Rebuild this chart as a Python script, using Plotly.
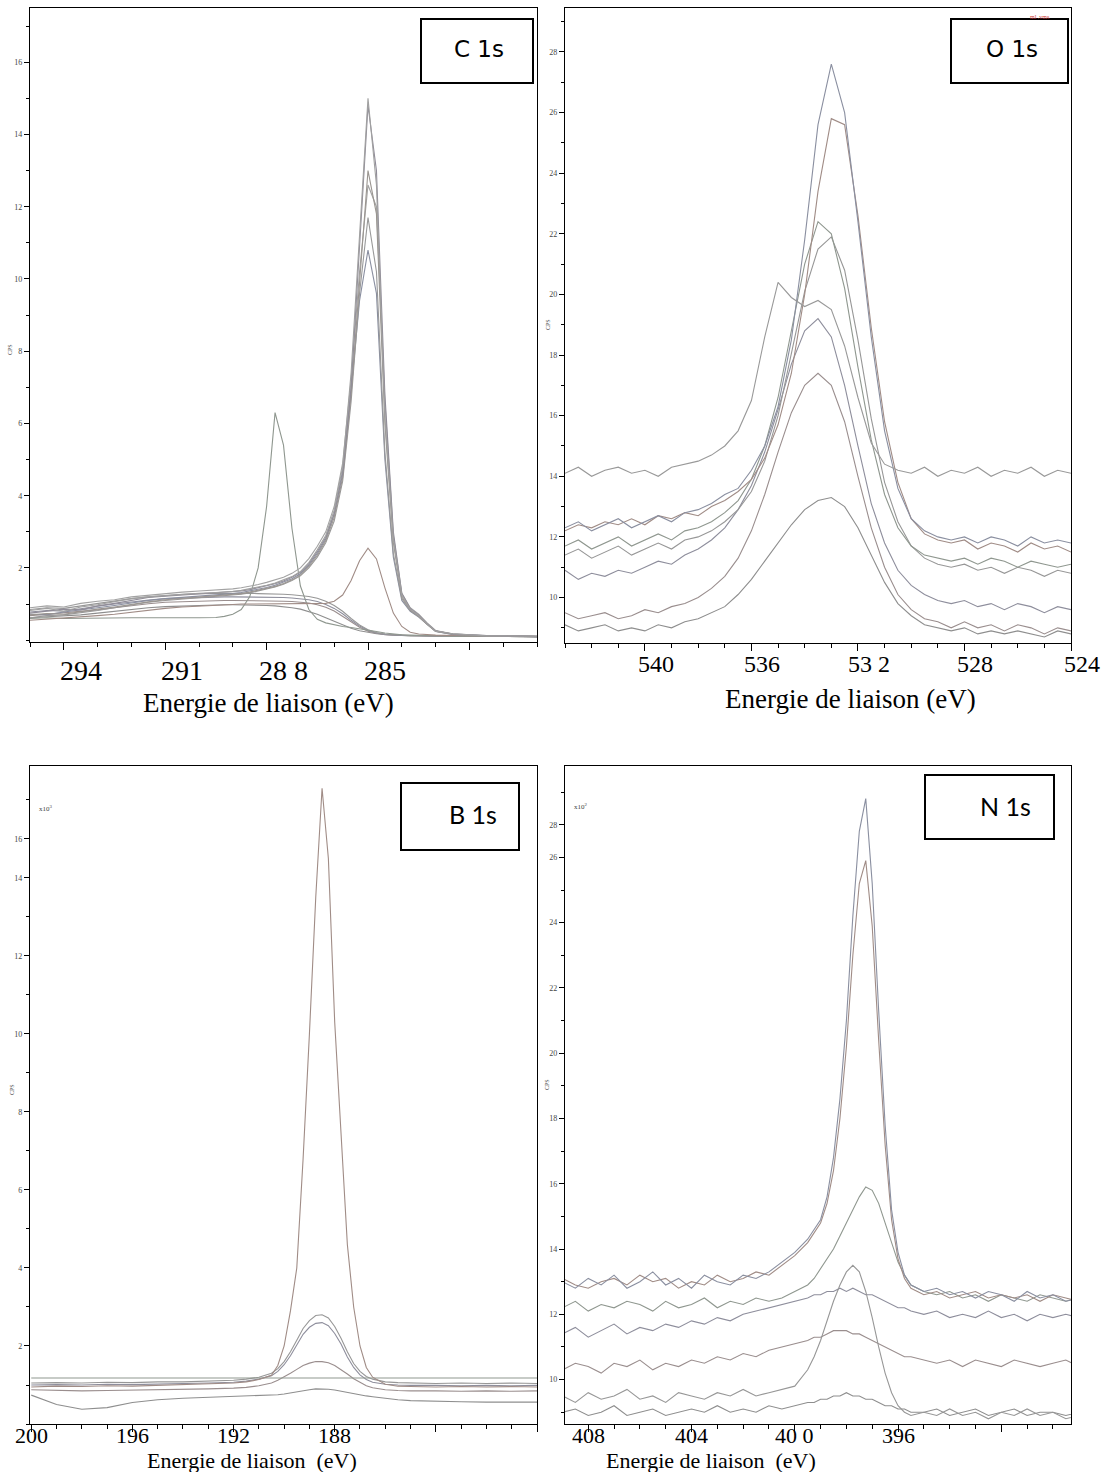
import plotly.graph_objects as go

# ---------------- DATA ----------------
# C 1s (x: binding energy eV, y: CPS x10^3)
C_X = [295, 294.5, 294, 293.5, 293, 292.5, 292, 291.5, 291, 290.5, 290, 289.5,
       289.25, 289, 288.75, 288.5, 288.25, 288, 287.75, 287.5, 287.25, 287, 286.75,
       286.5, 286.25, 286, 285.75, 285.5, 285.25, 285, 284.75, 284.5, 284.25, 284, 283.75, 283.5, 283.25, 283,
       282.5, 282, 281.5, 281, 280.5, 280]
C_A = [0.82, 0.88, 0.80, 0.92, 0.98, 1.06, 1.15, 1.20, 1.24, 1.27, 1.30, 1.32, 1.33, 1.35, 1.38, 1.42, 1.47, 1.52, 1.58, 1.66, 1.76, 1.90, 2.15,
       2.5, 2.9, 3.6, 4.8, 7.4, 11.3, 15.0, 12.6, 6.2, 2.8, 1.25, 0.85, 0.68, 0.45, 0.25,
       0.18, 0.14, 0.12, 0.12, 0.11, 0.11]
C_B = [0.75, 0.80, 0.86, 0.84, 0.95, 1.02, 1.10, 1.18, 1.22, 1.25, 1.28, 1.30, 1.31, 1.33, 1.36, 1.40, 1.45, 1.50, 1.56, 1.64, 1.74, 1.88, 2.12,
       2.45, 2.85, 3.5, 4.6, 7.0, 10.8, 14.8, 13.0, 6.8, 3.0, 1.3, 0.88, 0.70, 0.46, 0.26,
       0.17, 0.14, 0.13, 0.12, 0.11, 0.11]
C_C = [0.70, 0.74, 0.72, 0.80, 0.86, 0.92, 1.00, 1.06, 1.12, 1.16, 1.20, 1.22, 1.24, 1.26, 1.29, 1.33, 1.38, 1.43, 1.49, 1.57, 1.67, 1.80, 2.04,
       2.35, 2.75, 3.4, 4.5, 6.8, 10.0, 13.0, 11.8, 6.0, 2.7, 1.2, 0.84, 0.66, 0.44, 0.25,
       0.17, 0.13, 0.12, 0.11, 0.11, 0.10]
C_D = [0.90, 0.95, 0.92, 1.02, 1.08, 1.12, 1.20, 1.25, 1.30, 1.33, 1.36, 1.38, 1.40, 1.42, 1.45, 1.49, 1.54, 1.60, 1.66, 1.74, 1.85, 2.00, 2.26,
       2.6, 3.0, 3.7, 4.9, 7.2, 10.2, 12.6, 12.0, 6.6, 2.9, 1.3, 0.9, 0.72, 0.48, 0.27,
       0.18, 0.15, 0.13, 0.12, 0.12, 0.11]
C_E = [0.62, 0.68, 0.70, 0.75, 0.82, 0.90, 0.98, 1.05, 1.10, 1.14, 1.18, 1.20, 1.22, 1.24, 1.27, 1.31, 1.36, 1.41, 1.47, 1.55, 1.65, 1.78, 2.00,
       2.3, 2.7, 3.3, 4.4, 6.6, 9.6, 11.7, 10.2, 5.2, 2.4, 1.15, 0.82, 0.66, 0.44, 0.25,
       0.16, 0.13, 0.12, 0.11, 0.10, 0.10]
C_F = [0.72, 0.70, 0.78, 0.85, 0.90, 0.96, 1.04, 1.10, 1.15, 1.18, 1.22, 1.25, 1.27, 1.29, 1.32, 1.36, 1.41, 1.46, 1.52, 1.60, 1.70, 1.84, 2.08,
       2.4, 2.8, 3.5, 4.7, 6.9, 9.4, 10.8, 9.6, 5.0, 2.3, 1.1, 0.8, 0.64, 0.43, 0.24,
       0.16, 0.13, 0.12, 0.11, 0.11, 0.10]
C_G = [0.60, 0.62, 0.60, 0.61, 0.62, 0.61, 0.62, 0.62, 0.61, 0.62, 0.62, 0.63, 0.66, 0.72, 0.85, 1.2, 2.0, 3.7, 6.3, 5.4, 3.1, 1.5, 0.85,
       0.58, 0.48, 0.42, 0.38, 0.35, 0.32, 0.28, 0.24, 0.20, 0.17, 0.15, 0.14, 0.13, 0.12, 0.12,
       0.11, 0.11, 0.10, 0.10, 0.10, 0.10]
C_H = [0.55, 0.58, 0.60, 0.64, 0.68, 0.72, 0.78, 0.83, 0.88, 0.92, 0.95, 0.97, 0.98, 0.99, 1.0, 1.0, 1.0, 1.0, 1.0, 1.0, 1.0, 1.0, 1.0,
       1.0, 1.02, 1.08, 1.25, 1.65, 2.2, 2.55, 2.25, 1.45, 0.75, 0.38, 0.22, 0.17, 0.15, 0.14,
       0.13, 0.12, 0.12, 0.11, 0.11, 0.11]
C_BG1 = [0.85, 0.90, 0.88, 0.95, 1.02, 1.08, 1.15, 1.20, 1.24, 1.27, 1.29, 1.30, 1.30, 1.30, 1.30, 1.30, 1.29, 1.29, 1.28, 1.27, 1.26, 1.24, 1.21,
         1.16, 1.08, 0.96, 0.80, 0.60, 0.42, 0.29, 0.21, 0.17, 0.15, 0.14, 0.13, 0.13, 0.12, 0.12,
         0.12, 0.12, 0.11, 0.11, 0.11, 0.11]
C_BG2 = [0.78, 0.82, 0.80, 0.88, 0.94, 1.00, 1.06, 1.11, 1.15, 1.17, 1.19, 1.20, 1.20, 1.20, 1.20, 1.20, 1.19, 1.19, 1.18, 1.18, 1.17, 1.15, 1.12,
         1.07, 0.99, 0.88, 0.73, 0.55, 0.39, 0.27, 0.20, 0.16, 0.14, 0.13, 0.13, 0.12, 0.12, 0.12,
         0.12, 0.11, 0.11, 0.11, 0.11, 0.10]
C_BG3 = [0.68, 0.72, 0.74, 0.78, 0.84, 0.90, 0.96, 1.01, 1.05, 1.07, 1.09, 1.10, 1.10, 1.10, 1.10, 1.10, 1.10, 1.09, 1.09, 1.08, 1.07, 1.06, 1.03,
         0.98, 0.91, 0.81, 0.67, 0.51, 0.36, 0.25, 0.19, 0.15, 0.14, 0.13, 0.12, 0.12, 0.12, 0.11,
         0.11, 0.11, 0.11, 0.10, 0.10, 0.10]
C_BG4 = [0.62, 0.65, 0.66, 0.70, 0.75, 0.80, 0.86, 0.90, 0.93, 0.95, 0.97, 0.98, 0.98, 0.98, 0.98, 0.97, 0.97, 0.96, 0.95, 0.93, 0.90, 0.86, 0.80,
         0.72, 0.62, 0.52, 0.42, 0.33, 0.26, 0.21, 0.18, 0.16, 0.14, 0.13, 0.12, 0.12, 0.12, 0.11,
         0.11, 0.11, 0.10, 0.10, 0.10, 0.10]

# O 1s (y: CPS x10^3)
O_X = [543, 542.5, 542, 541.5, 541, 540.5, 540, 539.5, 539, 538.5, 538, 537.5, 537,
       536.5, 536, 535.5, 535, 534.5, 534, 533.5, 533, 532.5, 532, 531.5, 531, 530.5,
       530, 529.5, 529, 528.5, 528, 527.5, 527, 526.5, 526, 525.5, 525, 524.5, 524]
O_1 = [14.1, 14.3, 14.0, 14.2, 14.3, 14.1, 14.2, 14.0, 14.3, 14.4, 14.5, 14.7, 15.0,
       15.5, 16.5, 18.6, 20.4, 19.9, 19.6, 19.8, 19.5, 18.3, 16.6, 15.1, 14.4, 14.2,
       14.1, 14.3, 14.0, 14.2, 14.1, 14.3, 14.0, 14.2, 14.1, 14.3, 14.0, 14.2, 14.1]
O_2 = [12.3, 12.5, 12.2, 12.4, 12.6, 12.3, 12.5, 12.7, 12.5, 12.8, 12.9, 13.1, 13.4,
       13.6, 14.2, 15.0, 16.3, 18.5, 21.8, 25.6, 27.6, 26.0, 22.4, 18.6, 15.5, 13.6,
       12.6, 12.2, 12.0, 11.9, 12.0, 11.8, 12.0, 11.9, 11.7, 12.0, 11.8, 11.9, 11.8]
O_3 = [12.2, 12.4, 12.3, 12.5, 12.4, 12.6, 12.4, 12.7, 12.6, 12.8, 12.7, 13.0, 13.2,
       13.5, 13.9, 14.6, 15.7, 17.4, 20.0, 23.4, 25.8, 25.6, 22.6, 18.9, 15.8, 13.8,
       12.6, 12.1, 11.9, 11.8, 11.9, 11.6, 11.8, 11.7, 11.5, 11.8, 11.6, 11.7, 11.5]
O_4 = [11.7, 11.9, 11.6, 11.8, 12.0, 11.7, 11.9, 12.1, 11.9, 12.2, 12.3, 12.5, 12.8,
       13.2, 13.9, 15.0, 16.6, 18.8, 21.0, 22.4, 22.0, 20.2, 17.6, 15.2, 13.4, 12.3,
       11.7, 11.4, 11.3, 11.2, 11.3, 11.1, 11.3, 11.2, 11.0, 11.2, 11.1, 11.0, 11.1]
O_5 = [11.4, 11.6, 11.3, 11.5, 11.7, 11.4, 11.6, 11.8, 11.6, 11.9, 12.0, 12.2, 12.5,
       12.9, 13.5, 14.5, 16.0, 18.0, 20.1, 21.5, 21.9, 20.8, 18.5, 15.9, 13.8, 12.5,
       11.7, 11.3, 11.1, 11.0, 11.1, 10.9, 11.0, 10.8, 11.0, 10.9, 10.7, 10.9, 10.8]
O_6 = [10.9, 10.6, 10.8, 10.7, 10.9, 10.8, 11.0, 11.2, 11.1, 11.4, 11.6, 11.9, 12.3,
       12.9, 13.7, 14.8, 16.2, 17.7, 18.8, 19.2, 18.6, 17.0, 15.0, 13.1, 11.8, 10.9,
       10.4, 10.1, 9.9, 9.8, 9.9, 9.7, 9.8, 9.6, 9.8, 9.7, 9.5, 9.7, 9.6]
O_7 = [9.5, 9.3, 9.4, 9.5, 9.3, 9.4, 9.6, 9.5, 9.7, 9.8, 10.0, 10.3, 10.7,
       11.3, 12.2, 13.4, 14.8, 16.1, 17.0, 17.4, 17.0, 15.8, 14.0, 12.3, 11.0, 10.1,
       9.6, 9.3, 9.2, 9.0, 9.2, 9.0, 9.1, 8.9, 9.1, 9.0, 8.8, 9.0, 8.9]
O_8 = [9.1, 8.9, 9.0, 9.1, 8.9, 9.0, 8.9, 9.1, 9.0, 9.2, 9.3, 9.5, 9.7,
       10.1, 10.6, 11.2, 11.8, 12.4, 12.9, 13.2, 13.3, 13.0, 12.3, 11.4, 10.5, 9.8,
       9.4, 9.1, 9.0, 8.9, 9.0, 8.8, 8.9, 8.8, 8.9, 8.8, 8.7, 8.9, 8.8]

# B 1s (y: CPS x10^3)
B_X = [200, 199, 198, 197, 196, 195, 194, 193, 192, 191.5, 191,
       190.5, 190.25, 190, 189.75, 189.5, 189.25, 189, 188.75, 188.5, 188.25, 188, 187.75, 187.5, 187.25, 187, 186.75, 186.5,
       186, 185.5, 185, 184, 183, 182, 181, 180]
B_1 = [0.95, 0.97, 0.96, 0.98, 0.97, 0.99, 1.00, 1.02, 1.05, 1.08, 1.14,
       1.25, 1.5, 2.0, 2.9, 4.0, 6.8, 10.0, 13.5, 16.3, 14.5, 10.3, 7.4, 4.6, 3.0, 2.0, 1.45, 1.2,
       1.02, 0.97, 0.96, 0.95, 0.96, 0.95, 0.96, 0.95]
B_2 = [1.05, 1.06, 1.05, 1.07, 1.06, 1.08, 1.08, 1.10, 1.12, 1.15, 1.2,
       1.3, 1.42, 1.6, 1.85, 2.15, 2.45, 2.65, 2.78, 2.8, 2.72, 2.5, 2.2, 1.85, 1.55, 1.35, 1.22, 1.15,
       1.08, 1.06, 1.05, 1.04, 1.05, 1.04, 1.05, 1.04]
B_3 = [1.0, 1.01, 1.0, 1.02, 1.01, 1.02, 1.03, 1.05, 1.07, 1.1, 1.15,
       1.24, 1.35, 1.52, 1.75, 2.02, 2.3, 2.48, 2.58, 2.6, 2.52, 2.32, 2.05, 1.72, 1.45, 1.26, 1.14, 1.07,
       1.02, 1.0, 0.99, 0.99, 0.98, 0.99, 0.98, 0.99]
B_4 = [0.88, 0.86, 0.85, 0.86, 0.87, 0.88, 0.88, 0.9, 0.92, 0.94, 0.98,
       1.05, 1.12, 1.2, 1.3, 1.4, 1.5, 1.56, 1.6, 1.6, 1.57, 1.5, 1.4, 1.28, 1.16, 1.06, 0.98, 0.93,
       0.88, 0.86, 0.85, 0.85, 0.84, 0.85, 0.84, 0.85]
B_5 = [1.18, 1.18, 1.18, 1.18, 1.18, 1.18, 1.18, 1.18, 1.18, 1.18, 1.18,
       1.18, 1.18, 1.18, 1.18, 1.18, 1.18, 1.18, 1.18, 1.18, 1.18, 1.18, 1.18, 1.18, 1.18, 1.18, 1.18, 1.18,
       1.18, 1.18, 1.18, 1.18, 1.18, 1.18, 1.18, 1.18]
B_6 = [0.74, 0.50, 0.38, 0.42, 0.55, 0.62, 0.66, 0.68, 0.70, 0.71, 0.72,
       0.74, 0.75, 0.77, 0.80, 0.83, 0.86, 0.88, 0.90, 0.90, 0.89, 0.87, 0.84, 0.80, 0.77, 0.74, 0.72, 0.70,
       0.66, 0.62, 0.60, 0.58, 0.57, 0.56, 0.56, 0.56]

# N 1s (y: CPS x10^2)
N_X = [409, 408.5, 408, 407.5, 407, 406.5, 406, 405.5, 405, 404.5, 404, 403.5, 403, 402.5, 402, 401.5, 401, 400.5, 400, 399.5,
       399.25, 399, 398.75, 398.5, 398.25, 398, 397.75, 397.5, 397.25, 397, 396.75, 396.5, 396.25, 396, 395.75, 395.5,
       395, 394.5, 394, 393.5, 393, 392.5, 392, 391.5, 391, 390.5, 390, 389.5, 389]
N_1 = [13.0, 12.8, 13.1, 12.9, 13.2, 12.8, 13.0, 13.3, 12.9, 13.1, 12.8, 13.2, 13.0, 12.9, 13.2, 13.1, 13.3, 13.6, 13.9, 14.3,
       14.6, 14.9, 15.6, 16.8, 18.6, 21.0, 24.2, 26.8, 27.8, 25.2, 21.3, 17.8, 15.2, 13.9, 13.2, 12.9,
       12.7, 12.8, 12.6, 12.7, 12.5, 12.7, 12.6, 12.4, 12.7, 12.5, 12.6, 12.4, 12.5]
N_2 = [13.1, 12.9, 12.8, 13.0, 13.1, 12.9, 13.2, 13.0, 13.1, 12.8, 13.0, 12.9, 13.2, 13.0, 13.1, 13.3, 13.2, 13.5, 13.8, 14.2,
       14.5, 14.8, 15.4, 16.4, 18.0, 20.2, 23.0, 25.2, 25.9, 23.9, 20.4, 17.2, 14.9, 13.7, 13.1, 12.8,
       12.6, 12.7, 12.5, 12.6, 12.7, 12.5, 12.6, 12.5, 12.6, 12.4, 12.6, 12.5, 12.4]
N_3 = [12.2, 12.4, 12.1, 12.3, 12.2, 12.4, 12.3, 12.1, 12.4, 12.2, 12.3, 12.5, 12.2, 12.4, 12.3, 12.5, 12.4, 12.5, 12.7, 12.9,
       13.1, 13.4, 13.7, 14.0, 14.4, 14.8, 15.2, 15.6, 15.9, 15.8, 15.4, 14.8, 14.2, 13.6, 13.2, 12.9,
       12.7, 12.6, 12.7, 12.5, 12.6, 12.4, 12.6, 12.5, 12.4, 12.6, 12.5, 12.4, 12.5]
N_4 = [9.5, 9.3, 9.6, 9.4, 9.5, 9.7, 9.4, 9.5, 9.3, 9.6, 9.5, 9.4, 9.6, 9.5, 9.7, 9.5, 9.6, 9.7, 9.8, 10.3,
       10.7, 11.2, 11.8, 12.4, 12.9, 13.3, 13.5, 13.3, 12.7, 11.9, 11.0, 10.2, 9.6, 9.2, 9.0, 8.9,
       9.0, 8.9, 9.1, 8.9, 9.0, 8.8, 9.0, 8.9, 9.1, 8.9, 9.0, 8.8, 8.9]
N_5 = [11.4, 11.6, 11.3, 11.5, 11.7, 11.4, 11.6, 11.5, 11.7, 11.6, 11.8, 11.7, 11.9, 11.8, 12.0, 12.1, 12.2, 12.3, 12.4, 12.5,
       12.6, 12.6, 12.7, 12.7, 12.8, 12.7, 12.8, 12.7, 12.6, 12.6, 12.5, 12.4, 12.3, 12.2, 12.2, 12.1,
       12.0, 12.1, 11.9, 12.0, 11.9, 12.1, 11.9, 12.0, 11.8, 12.0, 11.9, 12.0, 11.9]
N_6 = [10.3, 10.5, 10.4, 10.2, 10.5, 10.4, 10.6, 10.3, 10.5, 10.4, 10.6, 10.5, 10.7, 10.6, 10.8, 10.7, 10.9, 11.0, 11.1, 11.2,
       11.3, 11.3, 11.4, 11.5, 11.5, 11.5, 11.4, 11.4, 11.3, 11.2, 11.1, 11.0, 10.9, 10.8, 10.7, 10.7,
       10.6, 10.5, 10.6, 10.4, 10.6, 10.5, 10.4, 10.6, 10.5, 10.4, 10.5, 10.6, 10.4]
N_7 = [9.0, 9.1, 8.9, 9.0, 9.2, 8.9, 9.0, 9.1, 8.9, 9.0, 9.1, 9.0, 9.2, 9.0, 9.1, 9.0, 9.2, 9.1, 9.2, 9.3,
       9.3, 9.4, 9.4, 9.5, 9.5, 9.6, 9.5, 9.5, 9.4, 9.4, 9.3, 9.2, 9.2, 9.1, 9.1, 9.0,
       9.0, 9.1, 8.9, 9.0, 9.1, 8.9, 9.0, 9.1, 8.9, 9.0, 9.0, 8.9, 9.0]

# Tick labels (typed as in the original figure)
C_TICKVALS = [294, 291, 288, 285]
C_TICKTEXT = ["294", "291", "28 8", "285"]
O_TICKVALS = [540, 536, 532, 528, 524]
O_TICKTEXT = ["540", "536", "53 2", "528", "524"]
B_TICKVALS = [200, 196, 192, 188]
B_TICKTEXT = ["200", "196", "192", "188"]
N_TICKVALS = [408, 404, 400, 396]
N_TICKTEXT = ["408", "404", "40 0", "396"]

C_YVALS = [2, 4, 6, 8, 10, 12, 14, 16]
C_YTEXT = ["2", "4", "6", "8", "10", "12", "14", "16"]
O_YVALS = [10, 12, 14, 16, 18, 20, 22, 24, 26, 28]
O_YTEXT = ["10", "12", "14", "16", "18", "20", "22", "24", "26", "28"]
B_YVALS = [2, 4, 6, 8, 10, 12, 14, 15]
B_YTEXT = ["2", "4", "6", "8", "10", "12", "14", "16"]
N_YVALS = [10, 12, 14, 16, 18, 20, 22, 24, 26, 27]
N_YTEXT = ["10", "12", "14", "16", "18", "20", "22", "24", "26", "28"]

# ---------------- LAYOUT HELPERS ----------------
W, H = 1103, 1472


def fx(p):
    return p / W


def fy(p):
    return 1 - p / H


GRAYS = ["#8e8e8e", "#9a8e8e", "#8e8e9c", "#979797", "#8f978f", "#a08c86",
         "#8a8fa0", "#999999", "#a3a3a3", "#9a9590", "#908c98", "#a0a0a0"]

panels = [
    dict(key="", x=C_X, ys=[C_BG4, C_BG3, C_BG2, C_BG1, C_G, C_H, C_F, C_E, C_D, C_C, C_B, C_A],
         xpx=(30, 537), ypx=(8, 642), xr=[295, 280], yr=[-0.05, 17.5],
         dtick=3, tick0=294, mdtick=1, yv=C_YVALS, yt=C_YTEXT,
         tv=C_TICKVALS, tt=C_TICKTEXT, xshift=17, laby=670, labsize=28,
         title="Energie de liaison (eV)", titlex=268, titley=703, titlesize=27,
         box=(421, 19, 533, 83), boxtext="C 1s", boxfont="DejaVu Sans", boxsize=23, boxtc=(479, 49),
         cps=(10, 350)),
    dict(key="2", x=O_X, ys=[O_8, O_7, O_6, O_5, O_4, O_3, O_2, O_1],
         xpx=(565, 1071), ypx=(8, 643), xr=[543, 524], yr=[8.5, 29.45],
         dtick=4, tick0=524, mdtick=1, yv=O_YVALS, yt=O_YTEXT,
         tv=O_TICKVALS, tt=O_TICKTEXT, xshift=11, laby=664, labsize=24,
         title="Energie de liaison (eV)", titlex=850, titley=699, titlesize=27,
         box=(951, 19, 1068, 83), boxtext="O 1s", boxfont="DejaVu Sans", boxsize=23, boxtc=(1012, 49),
         cps=(548, 325)),
    dict(key="3", x=B_X, ys=[B_6, B_4, B_3, B_2, B_5, B_1],
         xpx=(30, 537), ypx=(766, 1424), xr=[200.05, 180.0], yr=[0, 16.87],
         dtick=4, tick0=180, mdtick=1, yv=B_YVALS, yt=B_YTEXT,
         tv=B_TICKVALS, tt=B_TICKTEXT, xshift=0, laby=1435, labsize=22,
         title="Energie de liaison  (eV)", titlex=252, titley=1460, titlesize=22,
         box=(401, 783, 519, 850), boxtext="B 1s", boxfont="Lato", boxsize=25, boxtc=(473, 814),
         cps=(12, 1090), mult=("x10<sup>3</sup>", 46, 808)),
    dict(key="4", x=N_X, ys=[N_7, N_6, N_5, N_4, N_3, N_2, N_1],
         xpx=(565, 1071), ypx=(766, 1424), xr=[408.9, 389.3], yr=[8.64, 28.8],
         dtick=4, tick0=388, mdtick=1, yv=N_YVALS, yt=N_YTEXT,
         tv=N_TICKVALS, tt=N_TICKTEXT, xshift=0, laby=1435, labsize=22,
         title="Energie de liaison  (eV)", titlex=711, titley=1460, titlesize=22,
         box=(925, 775, 1054, 839), boxtext="N 1s", boxfont="Lato", boxsize=25, boxtc=(1005, 806),
         cps=(547, 1085), mult=("x10<sup>2</sup>", 581, 806)),
]

fig = go.Figure()
annotations = []
shapes = []

for p in panels:
    k = p["key"]
    xa = "x" + k
    ya = "y" + k
    for i, yv in enumerate(p["ys"]):
        fig.add_trace(go.Scatter(
            x=p["x"], y=yv, mode="lines", xaxis=xa, yaxis=ya,
            line=dict(color=GRAYS[i % len(GRAYS)], width=1.1),
            showlegend=False, hoverinfo="skip"))

    xdom = [fx(p["xpx"][0]), fx(p["xpx"][1])]
    ydom = [fy(p["ypx"][1]), fy(p["ypx"][0])]
    fig.update_layout(**{
        "xaxis" + k: dict(
            domain=xdom, range=p["xr"], anchor=ya,
            showline=True, linecolor="black", linewidth=1.4, mirror=True,
            ticks="outside", ticklen=7, tickwidth=1, tickcolor="black",
            tickmode="linear", tick0=p["tick0"], dtick=p["dtick"],
            minor=dict(ticks="outside", ticklen=4, tickwidth=1, tickcolor="black",
                       tickmode="linear", tick0=p["tick0"], dtick=p["mdtick"], showgrid=False),
            showticklabels=False, showgrid=False, zeroline=False, fixedrange=True),
        "yaxis" + k: dict(
            domain=ydom, range=p["yr"], anchor=xa,
            showline=True, linecolor="black", linewidth=1.4, mirror=True,
            ticks="outside", ticklen=5, tickwidth=1, tickcolor="black",
            tickmode="array", tickvals=p["yv"], ticktext=p["yt"],
            tickfont=dict(family="Liberation Serif", size=8, color="#444444"),
            minor=dict(ticks="outside", ticklen=3, tickwidth=1, tickcolor="black",
                       tickmode="linear", tick0=0, dtick=1, showgrid=False),
            showgrid=False, zeroline=False, fixedrange=True),
    })

    # typed x tick labels
    for v, t in zip(p["tv"], p["tt"]):
        annotations.append(dict(
            x=v, xref=xa, y=fy(p["laby"]), yref="paper", text=t, showarrow=False,
            xanchor="center", yanchor="middle", xshift=p["xshift"],
            font=dict(family="Liberation Serif", size=p["labsize"], color="black")))
    # x title
    annotations.append(dict(
        x=fx(p["titlex"]), y=fy(p["titley"]), xref="paper", yref="paper", text=p["title"],
        showarrow=False, xanchor="center", yanchor="middle",
        font=dict(family="Liberation Serif", size=p["titlesize"], color="black")))
    # CPS
    annotations.append(dict(
        x=fx(p["cps"][0]), y=fy(p["cps"][1]), xref="paper", yref="paper", text="CPS",
        showarrow=False, textangle=-90, xanchor="center", yanchor="middle",
        font=dict(family="Liberation Serif", size=6, color="#444444")))
    if "mult" in p:
        annotations.append(dict(
            x=fx(p["mult"][1]), y=fy(p["mult"][2]), xref="paper", yref="paper", text=p["mult"][0],
            showarrow=False, xanchor="center", yanchor="middle",
            font=dict(family="Liberation Serif", size=7, color="#444444")))
    # label box
    bx0, by0, bx1, by1 = p["box"]
    shapes.append(dict(type="rect", xref="paper", yref="paper",
                       x0=fx(bx0), x1=fx(bx1), y0=fy(by1), y1=fy(by0),
                       line=dict(color="black", width=2), fillcolor="white", layer="above"))
    annotations.append(dict(
        x=fx(p["boxtc"][0]), y=fy(p["boxtc"][1]), xref="paper", yref="paper", text=p["boxtext"],
        showarrow=False, xanchor="center", yanchor="middle",
        font=dict(family=p["boxfont"], size=p["boxsize"], color="black")))

# tiny file-name tag seen in the original
annotations.append(dict(x=fx(1052), y=fy(12), xref="paper", yref="paper", text="ml .vms",
                        showarrow=False, font=dict(family="Liberation Serif", size=6, color="#d04040")))

fig.update_layout(
    width=W, height=H, margin=dict(l=0, r=0, t=0, b=0),
    paper_bgcolor="white", plot_bgcolor="white",
    showlegend=False, annotations=annotations, shapes=shapes,
)

fig.write_html("out.html", config={"displayModeBar": False},
               post_script="document.body.style.margin='0';document.body.style.padding='0';document.body.style.overflow='hidden';")
